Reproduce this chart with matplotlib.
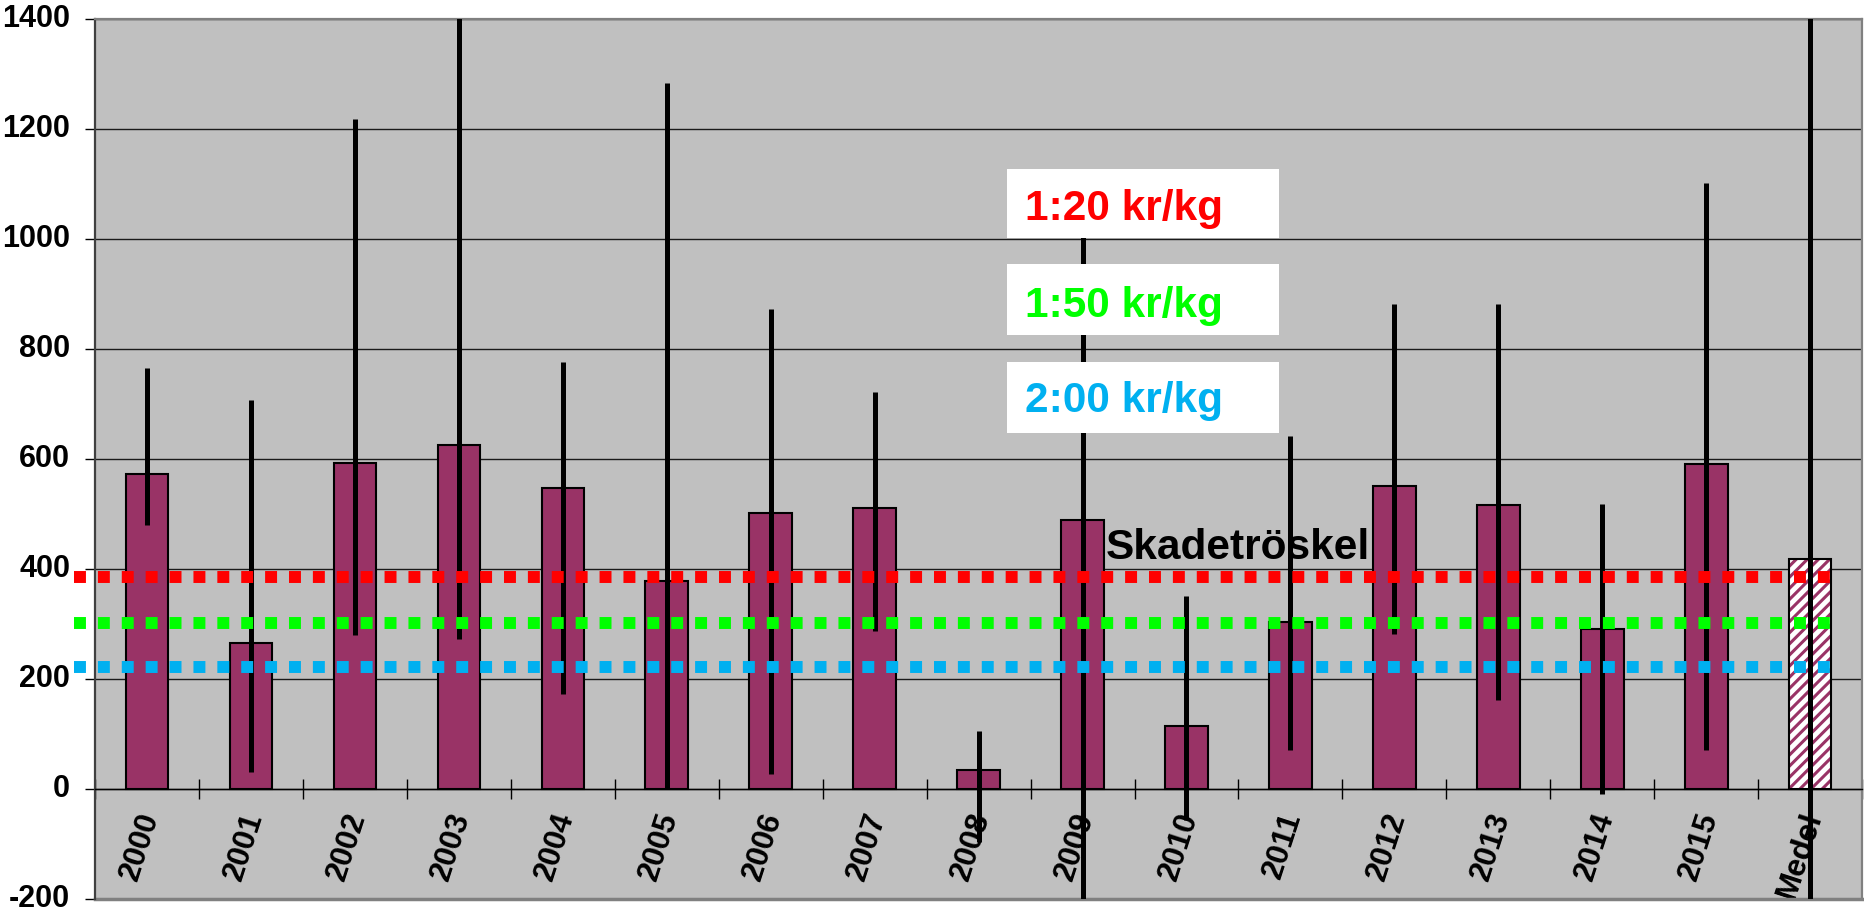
import matplotlib
matplotlib.use("Agg")
import matplotlib.pyplot as plt
import matplotlib.transforms as mtransforms
from matplotlib.patches import Rectangle
import numpy as np

plt.rcParams['font.family'] = ['Liberation Sans', 'DejaVu Sans']
plt.rcParams['font.weight'] = 'bold'
plt.rcParams['hatch.linewidth'] = 2.2
plt.rcParams['axes.unicode_minus'] = False

# data
years = ['2000', '2001', '2002', '2003', '2004', '2005', '2006', '2007', '2008',
         '2009', '2010', '2011', '2012', '2013', '2014', '2015', 'Medel']
values = [573, 266, 593, 625, 547, 379, 502, 511, 34, 489, 114, 303, 550, 517, 290, 591, 418]
err_low = [480, 30, 279, 273, 173, 0, 28, 288, -96, -300, -56, 71, 281, 162, -10, 71, -300]
err_high = [766, 708, 1218, 1450, 777, 1283, 872, 721, 106, 1100, 350, 641, 881, 881, 519, 1101, 1500]

thr_values = [385, 301, 221]
thr_colors = ['#FF0000', '#00FF00', '#00B0F0']
thr_labels = ['1:20 kr/kg', '1:50 kr/kg', '2:00 kr/kg']

bar_color = '#993366'
bg_color = '#C0C0C0'

fig = plt.figure(figsize=(18.64, 9.14), dpi=100)
ax = fig.add_axes([0.0510, 0.0165, 0.9480, 0.9627])
ax.set_facecolor(bg_color)

x = np.arange(len(years))

# bars, the last one (Medel) hatched
ax.bar(x[:-1], values[:-1], width=0.41, color=bar_color, edgecolor='black', lw=1.5, zorder=2)
ax.bar(x[-1:], values[-1:], width=0.41, color='white', edgecolor=bar_color, hatch='///', lw=0, zorder=2)
ax.bar(x[-1:], values[-1:], width=0.41, fill=False, edgecolor='black', lw=1.5, zorder=2.1)

# error lines
ax.vlines(x, err_low, err_high, color='black', lw=3.6, zorder=3)

# threshold lines, they start a bit left of the plot area
for v, c in zip(thr_values, thr_colors):
    ax.plot([-0.7, 16.3], [v, v], color=c, lw=8.6, linestyle=(0, (1, 1)),
            dash_capstyle='butt', clip_on=False, zorder=4)

# price boxes
box_bottom = [1001, 825, 648]
box_top = [1128, 954, 776]
text_base = [1035, 859, 685]
for lab, c, b0, b1, tb in zip(thr_labels, thr_colors, box_bottom, box_top, text_base):
    ax.add_patch(Rectangle((8.27, b0), 10.89 - 8.27, b1 - b0, facecolor='white',
                           edgecolor='none', zorder=5))
    ax.text(8.45, tb, lab, color=c, fontsize=30.5, fontweight='bold', va='baseline',
            ha='left', zorder=6)

ax.text(9.22, 418, 'Skadetröskel', fontsize=30.5, fontweight='bold', va='baseline',
        ha='left', zorder=6)

# axes
ax.set_xlim(-0.5, 16.5)
ax.set_ylim(-200, 1400)
ax.set_yticks(np.arange(-200, 1401, 200))
ax.yaxis.grid(True, color='#1a1a1a', lw=1.0)
ax.set_axisbelow(True)

ax.spines['bottom'].set_position(('data', 0))
ax.spines['bottom'].set_color('black')
ax.spines['bottom'].set_linewidth(1.0)
for s in ['top', 'right']:
    ax.spines[s].set_color('#808080')
    ax.spines[s].set_linewidth(1.6)
ax.spines['left'].set_color('#404040')
ax.spines['left'].set_linewidth(1.6)
ax.axhline(-200, color='#808080', lw=2.5, clip_on=False, zorder=1)

ax.set_xticks(x)
ax.set_xticklabels(years, rotation=72, ha='right', va='top', rotation_mode='anchor',
                   fontsize=22.5, fontweight='bold')
ax.set_xticks(np.arange(-0.5, 16.6, 1), minor=True)
ax.tick_params(axis='x', which='major', length=0, pad=14)
ax.tick_params(axis='x', which='minor', direction='inout', length=14, width=1)
offset = mtransforms.ScaledTranslation(-11 / 100, 0, fig.dpi_scale_trans)
for lbl in ax.get_xticklabels():
    lbl.set_transform(lbl.get_transform() + offset)

ax.tick_params(axis='y', direction='out', length=7, width=1, pad=11, labelsize=22)
for lbl in ax.get_yticklabels():
    lbl.set_fontweight('bold')
    lbl.set_verticalalignment('center')

fig.savefig('out.png', dpi=100)
